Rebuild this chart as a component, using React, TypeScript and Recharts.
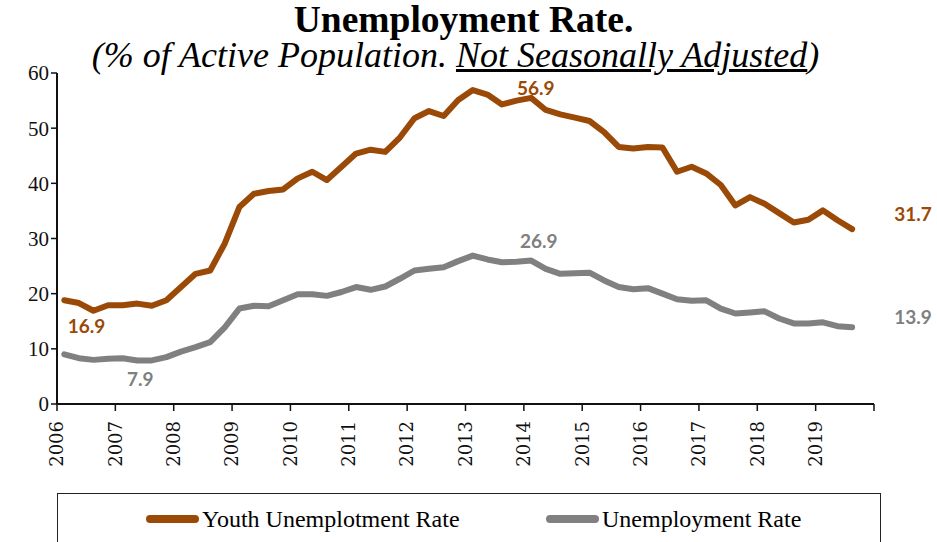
import { LabelList, Line, LineChart, XAxis, YAxis } from "recharts";

// quarterly, 2006 Q1 .. 2019 Q3
const years = ["2006", "2007", "2008", "2009", "2010", "2011", "2012", "2013", "2014", "2015", "2016", "2017", "2018", "2019"];

const youthRate = [
  18.8, 18.3, 16.9, 17.9, 17.9, 18.2, 17.8, 18.8,
  21.2, 23.6, 24.2, 29.1, 35.7, 38.1, 38.6, 38.9,
  40.9, 42.1, 40.6, 43.0, 45.4, 46.1, 45.7, 48.3,
  51.8, 53.1, 52.2, 55.1, 56.9, 56.1, 54.3, 55.0,
  55.5, 53.3, 52.5, 51.9, 51.3, 49.3, 46.6, 46.3,
  46.6, 46.5, 42.1, 43.0, 41.8, 39.7, 36.0, 37.5,
  36.3, 34.6, 32.9, 33.4, 35.1, 33.3, 31.7,
];

const totalRate = [
  9.0, 8.3, 8.0, 8.2, 8.3, 7.9, 7.9, 8.5,
  9.5, 10.3, 11.2, 13.9, 17.3, 17.8, 17.7, 18.8,
  19.9, 19.9, 19.6, 20.3, 21.2, 20.7, 21.3, 22.7,
  24.2, 24.5, 24.8, 25.9, 26.9, 26.2, 25.7, 25.8,
  26.0, 24.5, 23.6, 23.7, 23.8, 22.4, 21.2, 20.8,
  21.0, 20.0, 19.0, 18.7, 18.8, 17.3, 16.4, 16.6,
  16.8, 15.5, 14.6, 14.6, 14.8, 14.1, 13.9,
];

const yTicks = [0, 10, 20, 30, 40, 50, 60];
const xTicks = years.map((_, i) => i * 4).concat(56);

const YOUTH = "#9A4A06";
const TOTAL = "#808080";

const data = youthRate.map((v, i) => ({ t: i + 0.5, youth: v, total: totalRate[i] }));

// which points get a value label, and where
const youthLabels: Record<number, [number, number]> = { 2: [-7, 15], 28: [63, -3], 54: [61, -16] };
const totalLabels: Record<number, [number, number]> = { 5: [3, 18], 28: [66, -15], 54: [61, -11] };

function makeLabel(spots: Record<number, [number, number]>, color: string) {
  return (props: any) => {
    const spot = spots[props.index];
    if (!spot) return null;
    return (
      <text
        x={props.x + spot[0]}
        y={props.y + spot[1]}
        textAnchor="middle"
        dominantBaseline="central"
        fill={color}
        fontFamily="Lato"
        fontWeight={700}
        fontSize={19}
      >
        {Number(props.value).toFixed(1)}
      </text>
    );
  };
}

function YearTick({ x, y, payload }: any) {
  const i = payload.value / 4;
  if (i >= years.length) return null;
  return (
    <text
      transform={`translate(${x},${y + 8}) rotate(-90)`}
      textAnchor="end"
      dy="0.35em"
      fontFamily="DejaVu Serif"
      fontSize={18}
      fill="#111"
    >
      {years[i]}
    </text>
  );
}

const legendItem = {
  position: "absolute" as const,
  top: 10,
  display: "flex",
  alignItems: "center",
  fontFamily: "Liberation Serif",
  fontSize: 24,
  lineHeight: "30px",
  whiteSpace: "nowrap" as const,
};

export default function App() {
  return (
    <div style={{ position: "absolute", left: 0, top: 0, width: 937, height: 542, background: "#fff", overflow: "hidden" }}>
      <div style={{ position: "absolute", top: 0, left: -5, width: 937, textAlign: "center", fontFamily: "Liberation Serif", fontWeight: 700, fontSize: 37.5, lineHeight: "40px" }}>
        Unemployment Rate.
      </div>
      <div style={{ position: "absolute", top: 38, left: -13, width: 937, textAlign: "center", fontFamily: "Liberation Serif", fontStyle: "italic", fontSize: 36, lineHeight: "34px" }}>
        (% of Active Population. <span style={{ textDecoration: "underline" }}>Not Seasonally Adjusted</span>)
      </div>

      <LineChart width={937} height={542} data={data} margin={{ top: 73, right: 63, left: 7, bottom: 78 }}>
        <XAxis
          type="number"
          dataKey="t"
          domain={[0, 56]}
          ticks={xTicks}
          tick={<YearTick />}
          tickSize={7}
          height={60}
          axisLine={{ stroke: "#111", strokeWidth: 2 }}
          tickLine={{ stroke: "#111", strokeWidth: 1.5 }}
        />
        <YAxis
          domain={[0, 60]}
          ticks={yTicks}
          width={50}
          tickSize={6}
          axisLine={{ stroke: "#111", strokeWidth: 2 }}
          tickLine={{ stroke: "#111", strokeWidth: 1.5 }}
          tick={{ fontFamily: "Liberation Serif", fontSize: 21, fill: "#111" }}
        />
        <Line
          dataKey="youth"
          stroke={YOUTH}
          strokeWidth={6}
          strokeLinejoin="round"
          strokeLinecap="round"
          dot={false}
          isAnimationActive={false}
        >
          <LabelList dataKey="youth" content={makeLabel(youthLabels, YOUTH)} />
        </Line>
        <Line
          dataKey="total"
          stroke={TOTAL}
          strokeWidth={6}
          strokeLinejoin="round"
          strokeLinecap="round"
          dot={false}
          isAnimationActive={false}
        >
          <LabelList dataKey="total" content={makeLabel(totalLabels, TOTAL)} />
        </Line>
      </LineChart>

      <div style={{ position: "absolute", left: 57, top: 493, width: 824, height: 60, border: "1.5px solid #222", boxSizing: "border-box" }}>
        <div style={{ ...legendItem, left: 88 }}>
          <span style={{ display: "inline-block", flex: "none", width: 53, height: 8, borderRadius: 4, background: YOUTH, marginRight: 3 }} />
          <span>Youth Unemplotment Rate</span>
        </div>
        <div style={{ ...legendItem, left: 488 }}>
          <span style={{ display: "inline-block", flex: "none", width: 53, height: 8, borderRadius: 4, background: TOTAL, marginRight: 3 }} />
          <span>Unemployment Rate</span>
        </div>
      </div>
    </div>
  );
}
